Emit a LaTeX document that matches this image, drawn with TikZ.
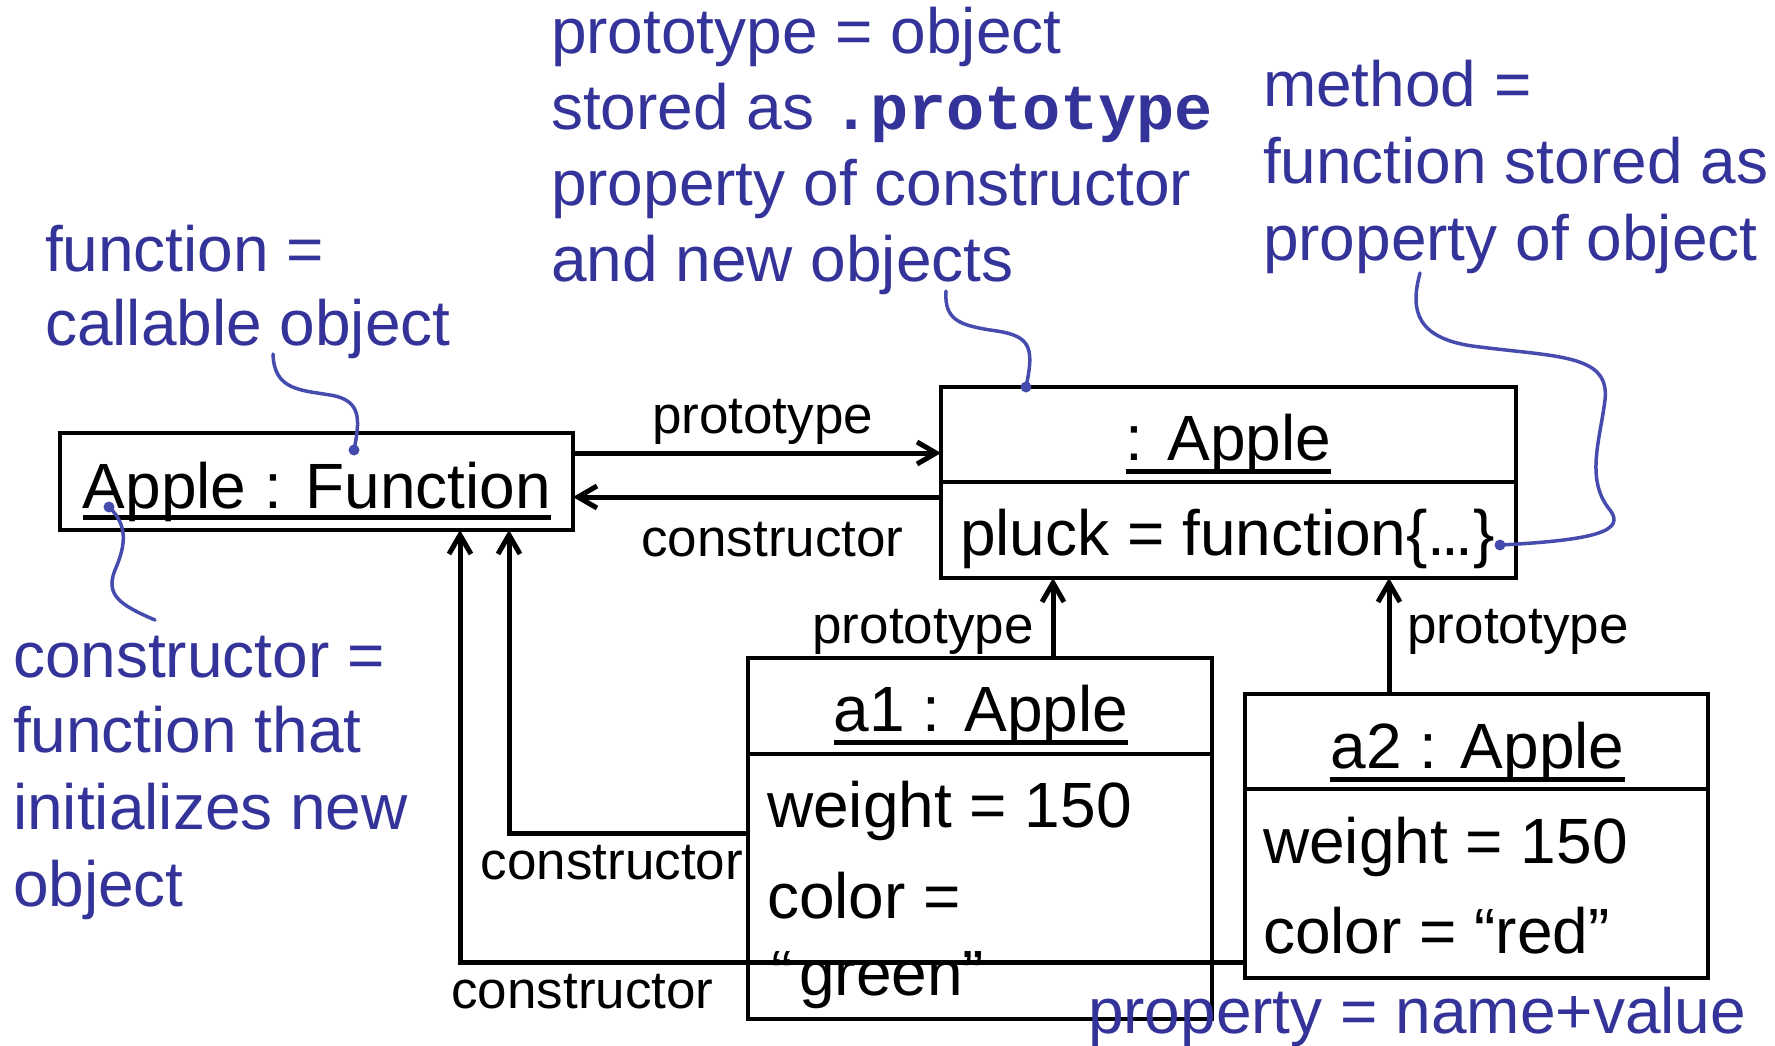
\documentclass[tikz,border=0pt]{standalone}
\usepackage{fontspec}
\setmainfont{Liberation Sans}
\newfontfamily\codefont{Liberation Mono}
\usetikzlibrary{arrows.meta}
\definecolor{noteblue}{RGB}{51,51,153}
\definecolor{curveblue}{RGB}{70,76,174}
\begin{document}
\begin{tikzpicture}[x=1pt,y=-1pt,
  box/.style={draw=black,line width=3.2pt,inner sep=0pt,outer sep=0pt},
  big/.style={inner sep=0pt,outer sep=0pt,font=\fontsize{64}{76}\selectfont},
  lbl/.style={inner sep=0pt,outer sep=0pt,font=\fontsize{53}{64}\selectfont,anchor=base},
  note/.style={inner sep=0pt,outer sep=0pt,font=\fontsize{64}{76}\selectfont,text=noteblue,anchor=base west},
  arr/.style={line width=5pt,-{Straight Barb[length=19pt,width=22pt]}},
  ulbar/.style={line width=5pt},
  callout/.style={draw=curveblue,line width=3.5pt,line cap=round},
  dot/.style={fill=curveblue,circle,inner sep=0pt,outer sep=0pt,minimum size=11pt}
]
\useasboundingbox (0,0) rectangle (1775,1045);

% boxes
\node[box,minimum width=513pt,minimum height=97pt] (fn) at (316.5,481.5) {};
\node[box,minimum width=575pt,minimum height=95pt] (aph) at (1228.5,434.5) {};
\node[box,minimum width=575pt,minimum height=96pt] (apb) at (1228.5,530) {};
\node[box,minimum width=464pt,minimum height=96pt] (a1h) at (980,706) {};
\node[box,minimum width=464pt,minimum height=265pt] (a1b) at (980,886.5) {};
\node[box,minimum width=463pt,minimum height=95pt] (a2h) at (1476.5,741.5) {};
\node[box,minimum width=463pt,minimum height=189pt] (a2b) at (1476.5,883.5) {};

% box texts
\node[big,anchor=base] (fnt) at (317,508) {Apple : Function};
\draw[ulbar] ([yshift=-9pt]fnt.base west) -- ([yshift=-9pt]fnt.base east);
\node[big,anchor=base] (apt) at (1228.5,460) {: Apple};
\draw[ulbar] ([yshift=-11pt]apt.base west) -- ([yshift=-11pt]apt.base east);
\node[big,anchor=base west] (pluck) at (960,555) {pluck = function\{.\kern-3.8pt.\kern-3.8pt.\}};
\node[big,anchor=base] (a1t) at (981,731) {a1 : Apple};
\draw[ulbar] ([yshift=-11pt]a1t.base west) -- ([yshift=-11pt]a1t.base east);
\node[big,anchor=base west] (a1w) at (767,827) {weight = 150};
\node[big,anchor=base west] (a1c) at (767,918) {color =};
\node[big,anchor=base west] (a1g) at (771,995) {“\hspace{7pt}green”};
\node[big,anchor=base] (a2t) at (1477.5,768) {a2 : Apple};
\draw[ulbar] ([yshift=-11pt]a2t.base west) -- ([yshift=-11pt]a2t.base east);
\node[big,anchor=base west] (a2w) at (1263,863) {weight = 150};
\node[big,anchor=base west] (a2c) at (1263,953) {color = “red”};

% connector labels
\node[lbl] (l1) at (762.5,433) {prototype};
\node[lbl] (l2) at (772.5,556) {constructor};
\node[lbl] (l3) at (923,643) {prototype};
\node[lbl] (l4) at (1518,643) {prototype};
\node[lbl] (l5) at (612,879) {constructor};
\node[lbl] (l6) at (582.5,1008) {constructor};

% connectors
\draw[arr] ([yshift=28.5pt]fn.east) -- ([yshift=-18.5pt]aph.west);
\draw[arr] ([yshift=33pt]apb.west) -- ([yshift=-15.5pt]fn.east);
\coordinate (p1) at ([xshift=73pt]a1h.north);
\coordinate (p2) at ([xshift=-87.5pt]a2h.north);
\draw[arr] (p1) -- (p1 |- apb.south);
\draw[arr] (p2) -- (p2 |- apb.south);
\draw[arr] ([yshift=53.5pt]a1b.west) -| ([xshift=449pt]fn.south west);
\draw[arr] ([yshift=-78.5pt]a2b.west) -| ([xshift=400pt]fn.south west);

% blue notes
\node[note] (n1a) at (45,271) {function =};
\node[note] (n1b) at (45,345) {callable object};
\node[note] (n2a) at (551,53) {prototype = object};
\node[note] (n2b) at (551,129) {stored as {\codefont\bfseries\fontsize{63.5}{76}\selectfont .prototype}};
\node[note] (n2c) at (551,205) {property of constructor};
\node[note] (n2d) at (551,281) {and new objects};
\node[note] (n3a) at (1263,106) {method =};
\node[note] (n3b) at (1263,183) {function stored as};
\node[note] (n3c) at (1263,260) {property of object};
\node[note] (n4a) at (13,677) {constructor =};
\node[note] (n4b) at (13,752) {function that};
\node[note] (n4c) at (13,829) {initializes new};
\node[note] (n4d) at (13,906) {object};
\node[note] (n5) at (1088,1033) {property = name+value};

% callouts
\node[dot] (d1) at (354,450) {};
\node[dot] (d2) at (109,507) {};
\node[dot] (d3) at (1026,387) {};
\node[dot] (d4) at (1500,545) {};
\coordinate (c1) at (273,354);
\coordinate (c2) at (155,620);
\coordinate (c3) at (946,291);
\coordinate (c4) at (1420,273);
\draw[callout] (c1) .. controls (274,390) and (300,390) .. (330,395) .. controls (362,400) and (360,420) .. (d1.center);
\draw[callout] (d2.center) .. controls (128,525) and (126,545) .. (115,570) .. controls (105,595) and (120,605) .. (c2);
\draw[callout] (c3) .. controls (944,320) and (960,325) .. (990,330) .. controls (1030,335) and (1035,345) .. (d3.center);
\draw[callout] (c4) .. controls (1410,310) and (1415,340) .. (1480,347) .. controls (1560,357) and (1610,355) .. (1605,400) .. controls (1600,440) and (1585,480) .. (1610,510) .. controls (1625,530) and (1600,540) .. (d4.center);
\end{tikzpicture}
\end{document}
